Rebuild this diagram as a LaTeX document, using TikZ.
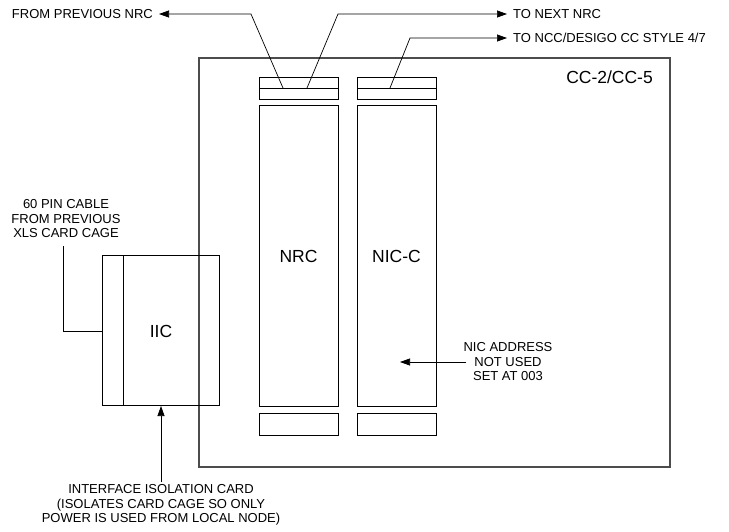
\documentclass[tikz,border=0pt]{standalone}
\usepackage{fontspec}
\setmainfont{Liberation Sans}
\usetikzlibrary{arrows.meta}
\begin{document}
\begin{tikzpicture}[x=1pt,y=-1pt,
  card/.style={draw=black,line width=0.8pt},
  cage/.style={draw=black!70,line width=1.2pt},
  wire/.style={draw=black,line width=0.7pt},
  arr/.style={wire,-{Triangle[length=10pt,width=7pt]}},
  lbl/.style={font=\fontsize{13}{14.5}\selectfont,inner sep=0pt,align=center},
  big/.style={font=\fontsize{17.5}{20}\selectfont,inner sep=0pt}]
\useasboundingbox (0,0) rectangle (729,531);
% cage
\draw[cage] (199,58) rectangle (670,467);
\node[big,anchor=east] (cc) at (653,77) {CC-2/CC-5};
% NRC
\draw[card] (259,77) rectangle (338,99);
\draw[card] (259,88) -- (338,88);
\draw[card] (259,105) rectangle (338,406);
\draw[card] (259,413) rectangle (338,435);
\node[big] (nrc) at (298.5,256) {NRC};
% NIC-C
\draw[card] (357,77) rectangle (436,99);
\draw[card] (357,88) -- (436,88);
\draw[card] (357,105) rectangle (436,406);
\draw[card] (357,413) rectangle (436,435);
\node[big] (nicc) at (396.5,256) {NIC-C};
% IIC
\draw[card] (102,255) rectangle (219,405);
\draw[card] (123,255) -- (123,405);
\node[big] (iic) at (161,331) {IIC};
% top labels
\node[lbl,anchor=east] (fp) at (153,14) {FROM PREVIOUS NRC};
\node[lbl,anchor=west] (tn) at (513,14) {TO NEXT NRC};
\node[lbl,anchor=west] (tncc) at (513,38) {TO NCC/DESIGO CC STYLE 4/7};
\coordinate (a1) at (283,88);
\coordinate (a2) at (307,88);
\coordinate (a3) at (390,88);
\draw[arr] (a1) -- (251,14) -- ([xshift=6pt]fp.east);
\draw[arr] (a2) -- (338,14) -- ([xshift=-6pt]tn.west);
\draw[arr] (a3) -- (410,38) -- ([xshift=-6pt]tncc.west);
% 60 pin cable
\node[lbl] (pin) at (66,219) {60 PIN CABLE\\FROM PREVIOUS\\XLS CARD CAGE};
\draw[wire] (63,246) -- (63,331) -- (102,331);
% interface isolation card
\node[lbl] (ifc) at (161,505) {INTERFACE ISOLATION CARD\\(ISOLATES CARD CAGE SO ONLY\\POWER IS USED FROM LOCAL NODE)};
\draw[arr] (161,482) -- (161,406);
% NIC address
\node[lbl] (nic) at (508,362) {NIC ADDRESS\\NOT USED\\SET AT 003};
\draw[arr] (466,362) -- (400,362);
\end{tikzpicture}
\end{document}
